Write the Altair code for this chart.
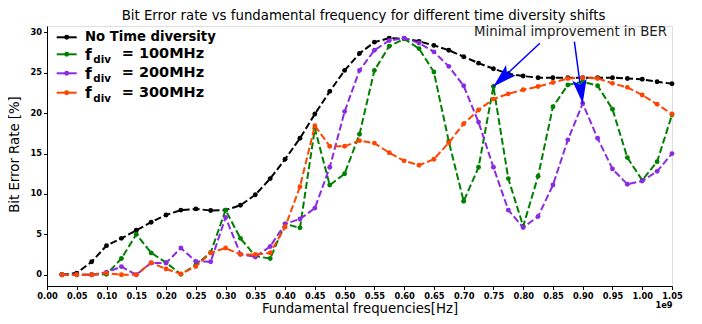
import math
import altair as alt
import pandas as pd

# ---------------- data ----------------
freq = [0.025, 0.05, 0.075, 0.10, 0.125, 0.15, 0.175, 0.20, 0.225, 0.25, 0.275, 0.30,
        0.325, 0.35, 0.375, 0.40, 0.425, 0.45, 0.475, 0.50, 0.525, 0.55, 0.575, 0.60,
        0.625, 0.65, 0.675, 0.70, 0.725, 0.75, 0.775, 0.80, 0.825, 0.85, 0.875, 0.90,
        0.925, 0.95, 0.975, 1.00, 1.025, 1.05]

ber_none = [0, 0.2, 1.6, 3.6, 4.5, 5.5, 6.5, 7.4, 8.0, 8.15, 7.95, 8.0,
            8.6, 9.9, 11.9, 14.3, 16.9, 19.9, 22.7, 25.3, 27.4, 28.8, 29.3, 29.25,
            28.9, 28.4, 27.8, 27.0, 26.2, 25.5, 24.9, 24.6, 24.4, 24.4, 24.4, 24.4,
            24.4, 24.4, 24.3, 24.2, 23.9, 23.65]

ber_100 = [0, 0, 0, 0.05, 2.0, 5.0, 2.7, 1.5, 0.05, 1.2, 2.75, 8.0,
           4.5, 2.3, 2.0, 6.3, 5.8, 18.1, 11.1, 12.5, 17.4, 25.3, 28.3, 29.2,
           28.0, 25.1, 16.5, 9.1, 13.3, 23.3, 11.9, 6.0, 12.2, 20.8, 23.5, 23.9,
           23.4, 20.5, 14.5, 11.7, 14.0, 19.8]

ber_200 = [0, 0, 0, 0.3, 1.0, 0.0, 1.45, 1.45, 3.3, 1.65, 1.6, 7.1,
           2.55, 2.2, 3.5, 6.3, 6.9, 8.25, 13.3, 20.2, 25.3, 27.8, 29.0, 29.3,
           28.7, 27.6, 25.8, 23.4, 18.9, 13.3, 8.0, 5.85, 7.2, 11.1, 16.7, 21.2,
           16.9, 13.1, 11.2, 11.6, 12.8, 15.0]

ber_300 = [0, 0, 0, 0.2, 0, 0, 1.5, 0.7, 0.1, 1.0, 2.7, 3.3,
           2.5, 2.5, 2.7, 5.9, 10.9, 18.45, 15.9, 15.9, 16.6, 16.3, 15.1, 14.1,
           13.55, 14.3, 16.35, 18.7, 20.4, 21.75, 22.4, 22.9, 23.3, 23.8, 24.3, 24.4,
           24.3, 23.7, 23.2, 22.25, 21.1, 19.9]

series_names = ["No Time diversity", "f_div = 100MHz", "f_div = 200MHz", "f_div = 300MHz"]
legend_suffix = ["100MHz", "200MHz", "300MHz"]

x_ticks = [0.00, 0.05, 0.10, 0.15, 0.20, 0.25, 0.30, 0.35, 0.40, 0.45, 0.50,
           0.55, 0.60, 0.65, 0.70, 0.75, 0.80, 0.85, 0.90, 0.95, 1.00, 1.05]
y_ticks = [0, 5, 10, 15, 20, 25, 30]

title_text = "Bit Error rate vs fundamental frequency for different time diversity shifts"
annot_text = "Minimal improvement in BER"
annot_text_x = [0.8795]
annot_text_y = [30.0]
arrow_start_x = [0.828, 0.886]
arrow_start_y = [28.66, 28.86]
arrow_tip_x = [0.75, 0.90]
arrow_tip_y = [23.3, 21.2]

# ---------------- styling ----------------
colors = ["#000000", "#008000", "#8a2be2", "#ff4500"]
W, H = 625, 260
XDOM = [0, 1.05]
YDOM = [-1.4, 30.8]
FONT = "DejaVu Sans"

xscale = alt.Scale(domain=XDOM, nice=False, zero=False)
yscale = alt.Scale(domain=YDOM, nice=False, zero=False)

xaxis = alt.Axis(values=x_ticks, format=".2f", title="Fundamental frequencies[Hz]",
                 labelFontWeight="bold", labelFontSize=8.3, labelFont=FONT,
                 labelColor="black", labelPadding=2, labelFlush=False, labelOverlap=False,
                 tickSize=3.5, tickColor="black", domainColor="black", grid=False,
                 titleFont=FONT, titleFontSize=13.3, titleFontWeight="normal",
                 titleColor="black", titlePadding=2)
yaxis = alt.Axis(values=y_ticks, format="d", title="Bit Error Rate [%]",
                 labelFontWeight="bold", labelFontSize=8.3, labelFont=FONT,
                 labelColor="black", labelPadding=2, tickSize=3.5, tickColor="black",
                 domainColor="black", grid=False, titleFont=FONT, titleFontSize=13.3,
                 titleFontWeight="normal", titleColor="black", titleX=-26, titleY=128,
                 titleAngle=270, titleBaseline="bottom", titleAlign="center")


def X(field):
    return alt.X(field, scale=xscale, axis=xaxis)


def Y(field):
    return alt.Y(field, scale=yscale, axis=yaxis)


all_series = [ber_none, ber_100, ber_200, ber_300]
layers = []
for i, (name, vals) in enumerate(zip(series_names, all_series)):
    d = pd.DataFrame({"freq": freq, "ber": vals, "series": name})
    base = alt.Chart(d).encode(x=X("freq:Q"), y=Y("ber:Q"))
    layers.append(base.mark_line(color=colors[i], strokeWidth=2, strokeDash=[7, 3]))
    layers.append(base.mark_circle(color=colors[i], size=24, opacity=1))

# annotation
ann = pd.DataFrame({"x": arrow_start_x, "y": arrow_start_y, "x2": arrow_tip_x, "y2": arrow_tip_y})
sx = W / (XDOM[1] - XDOM[0])
sy = H / (YDOM[1] - YDOM[0])
angles = []
for a, b, c, e in zip(arrow_start_x, arrow_start_y, arrow_tip_x, arrow_tip_y):
    dx = (c - a) * sx
    dy = -(e - b) * sy
    angles.append(math.degrees(math.atan2(-dx, dy)) % 360)
ann["angle"] = angles

shaft = alt.Chart(ann).mark_rule(color="#0000ff", strokeWidth=1.5).encode(
    x=X("x:Q"), y=Y("y:Q"), x2="x2:Q", y2="y2:Q")
head_path = "M0,0 L-0.6,-2.0 L0,-1.55 L0.6,-2.0 Z"
head = alt.Chart(ann).mark_point(shape=head_path, filled=True, color="#0000ff",
                                 opacity=1, size=576, strokeWidth=0).encode(
    x=X("x2:Q"), y=Y("y2:Q"), angle=alt.Angle("angle:Q", scale=None))
txt_df = pd.DataFrame({"x": annot_text_x, "y": annot_text_y, "t": [annot_text]})
ann_text = alt.Chart(txt_df).mark_text(font=FONT, fontSize=13.3, color="#222222",
                                       align="center", baseline="middle").encode(
    x=X("x:Q"), y=Y("y:Q"), text="t:N")
layers += [shaft, head, ann_text]

# offset text "1e9" and the title
one = pd.DataFrame({"t": ["1e9"]})
layers.append(alt.Chart(one).mark_text(font=FONT, fontSize=8.3, fontWeight="bold",
                                       color="black", align="center", baseline="middle").encode(
    x=alt.value(617), y=alt.value(279.5), text="t:N"))
ttl = pd.DataFrame({"t": [title_text]})
layers.append(alt.Chart(ttl).mark_text(font=FONT, fontSize=13.3, color="black",
                                       align="center", baseline="middle").encode(
    x=alt.value(W / 2 + 4), y=alt.value(-10.5), text="t:N"))

# legend (custom, to allow the subscript)
row_y = [11.3, 28.3, 47.3, 66.7]
for i in range(4):
    d1 = pd.DataFrame({"a": [0]})
    layers.append(alt.Chart(d1).mark_rule(color=colors[i], strokeWidth=2).encode(
        x=alt.value(9.7), x2=alt.value(29.7), y=alt.value(row_y[i])))
    layers.append(alt.Chart(d1).mark_circle(color=colors[i], size=24, opacity=1).encode(
        x=alt.value(19.7), y=alt.value(row_y[i])))
    if i == 0:
        t = pd.DataFrame({"t": [series_names[0]]})
        layers.append(alt.Chart(t).mark_text(font=FONT, fontSize=13.2, fontWeight="bold",
                                             color="black", align="left", baseline="middle").encode(
            x=alt.value(38), y=alt.value(row_y[i]), text="t:N"))
    else:
        tf = pd.DataFrame({"t": ["f"]})
        layers.append(alt.Chart(tf).mark_text(font=FONT, fontSize=15.5, fontWeight="bold",
                                              color="black", align="left", baseline="alphabetic").encode(
            x=alt.value(38), y=alt.value(row_y[i] + 5.5), text="t:N"))
        td = pd.DataFrame({"t": ["div"]})
        layers.append(alt.Chart(td).mark_text(font=FONT, fontSize=10.3, fontWeight="bold",
                                              color="black", align="left", baseline="alphabetic").encode(
            x=alt.value(46.3), y=alt.value(row_y[i] + 9), text="t:N"))
        tv = pd.DataFrame({"t": ["= " + legend_suffix[i - 1]]})
        layers.append(alt.Chart(tv).mark_text(font=FONT, fontSize=14.5, fontWeight="bold",
                                              color="black", align="left", baseline="middle").encode(
            x=alt.value(74.7), y=alt.value(row_y[i]), text="t:N"))

chart = alt.layer(*layers).properties(
    width=W, height=H,
    padding={"left": 39, "top": 18, "right": 22, "bottom": 30},
    autosize=alt.AutoSizeParams(type="none"),
).configure_view(stroke=None).configure(background="white")

chart.save("out.html", embed_options={"renderer": "svg", "actions": False})
